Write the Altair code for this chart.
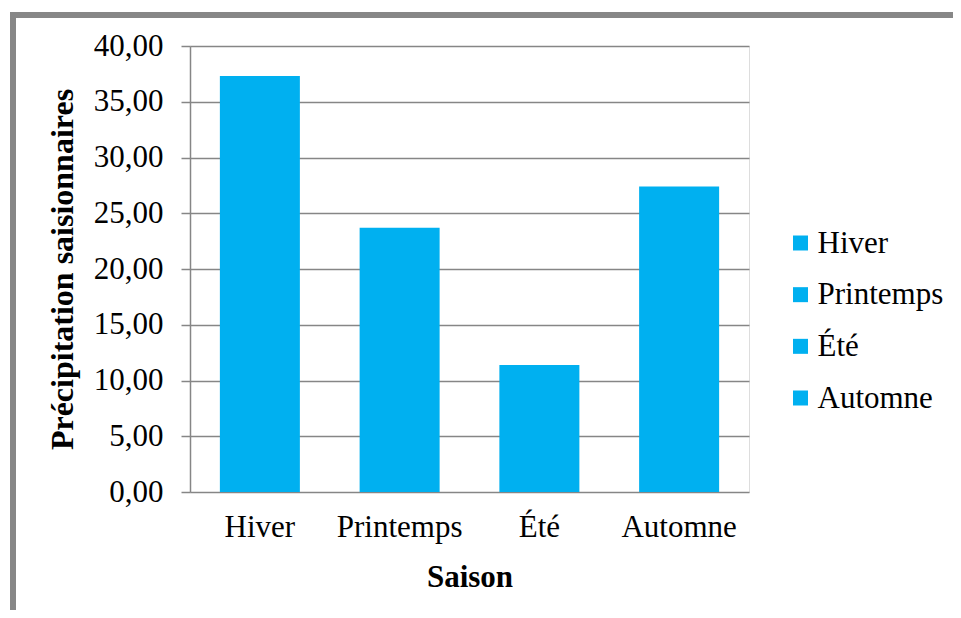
import altair as alt
import pandas as pd

saisons = ["Hiver", "Printemps", "Été", "Automne"]
precip = [37.3, 23.7, 11.4, 27.4]

df = pd.DataFrame({"Saison": saisons, "Precip": precip})

FONT = "Liberation Serif"
BLUE = "#00B0F0"
GRID = "#868686"

bars = alt.Chart(df).mark_bar(color=BLUE).encode(
    x=alt.X("Saison:N", sort=saisons,
            scale=alt.Scale(paddingInner=0.4275, paddingOuter=0.21375),
            axis=alt.Axis(title="Saison", labelAngle=0, ticks=False, domain=False,
                          labelFont=FONT, labelFontSize=31, labelColor="black",
                          labelPadding=20, titleFont=FONT, titleFontSize=31,
                          titleFontWeight="bold", titleColor="black", titlePadding=20)),
    y=alt.Y("Precip:Q", scale=alt.Scale(domain=[0, 40]),
            axis=alt.Axis(title="Précipitation saisionnaires", values=list(range(0, 45, 5)),
                          labelExpr="replace(format(datum.value, '.2f'), '.', ',')",
                          grid=True, gridColor=GRID, gridWidth=1.5,
                          domain=True, domainColor=GRID, domainWidth=1.5,
                          ticks=True, tickSize=9, tickColor=GRID, tickWidth=1.5,
                          labelFont=FONT, labelFontSize=31, labelColor="black",
                          labelPadding=18, titleFont=FONT, titleFontSize=32,
                          titleFontWeight="bold", titleColor="black", titlePadding=14)),
)

# Legend: blue squares plus a right-hand axis that carries the season names
legend_y = alt.Y("Saison:N", sort=saisons,
                 scale=alt.Scale(type="point", range=[197, 352], padding=0),
                 axis=alt.Axis(orient="right", title=None, domain=False, ticks=False,
                               grid=False, labelFont=FONT, labelFontSize=31,
                               labelColor="black", labelPadding=68, labelAlign="left",
                               labelBaseline="middle"))

legend_sym = alt.Chart(df).mark_square(size=225, color=BLUE, opacity=1).encode(
    x=alt.value(610.5), y=legend_y
)

frame = alt.Chart(df).mark_rect(fill=None, stroke="#878787", strokeWidth=6, clip=False).encode(
    x=alt.value(-177), x2=alt.value(820), y=alt.value(-31), y2=alt.value(620)
)

chart = alt.layer(bars, frame, legend_sym).resolve_scale(y="independent").resolve_axis(
    y="independent"
).properties(
    width=559, height=446,
    autosize=alt.AutoSizeParams(type="none"),
    padding={"left": 182, "top": 38, "right": 204, "bottom": 118},
).configure_view(stroke=None).configure(background="white", font=FONT)

chart.save("out.html", embed_options={"renderer": "svg", "actions": False})
